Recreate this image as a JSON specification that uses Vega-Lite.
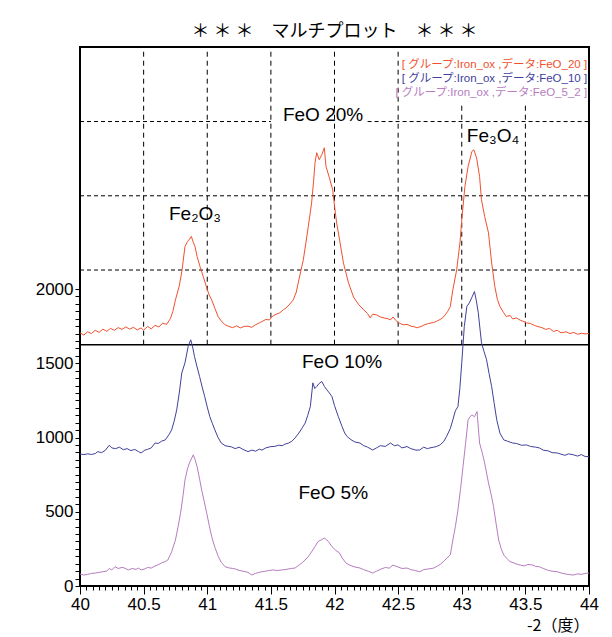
{
  "$schema": "https://vega.github.io/schema/vega-lite/v6.json",
  "width": 509,
  "height": 539,
  "autosize": "none",
  "padding": {"left": 80, "top": 47, "right": 23, "bottom": 51},
  "background": "white",
  "title": {"text": "＊ ＊ ＊　マルチプロット　＊ ＊ ＊", "font": "Noto Sans CJK JP", "fontSize": 18, "fontWeight": "normal", "color": "#000", "anchor": "middle", "offset": 6},
  "config": {"view": {"stroke": "#000", "strokeWidth": 2}, "font": "Liberation Sans"},
  "datasets": {
    "vgrid": [
      {"x": 40.5, "bottom": 1625, "top": 3630},
      {"x": 41.0, "bottom": 1625, "top": 3630},
      {"x": 41.5, "bottom": 1625, "top": 3630},
      {"x": 42.0, "bottom": 1625, "top": 3630},
      {"x": 42.5, "bottom": 1625, "top": 3630},
      {"x": 43.0, "bottom": 1625, "top": 3260},
      {"x": 43.5, "bottom": 1625, "top": 3260}
    ],
    "hgrid": [
      {"y": 2128, "x1": 40, "x2": 44},
      {"y": 2628, "x1": 40, "x2": 44},
      {"y": 3128, "x1": 40, "x2": 41.5},
      {"y": 3128, "x1": 42.26, "x2": 44}
    ],
    "sep": [{"y": 1625, "x1": 40, "x2": 44}],
    "labels": [
      {"label": "FeO 20%", "x": 41.91, "y": 3174},
      {"label": "Fe₂O₃", "x": 40.904, "y": 2507},
      {"label": "Fe₃O₄", "x": 43.246, "y": 3032},
      {"label": "FeO 10%", "x": 42.06, "y": 1509},
      {"label": "FeO 5%", "x": 41.99, "y": 627}
    ],
    "legend": [
      {"s": "FeO_20", "label": "[ グループ:Iron_ox ,データ:FeO_20  ]", "x": 43.985, "y": 3511},
      {"s": "FeO_10", "label": "[ グループ:Iron_ox ,データ:FeO_10  ]", "x": 43.985, "y": 3416},
      {"s": "FeO_5_2", "label": "[ グループ:Iron_ox ,データ:FeO_5_2 ]", "x": 43.985, "y": 3322}
    ],
    "series": [
      {"s":"FeO_20","x":40.00,"y":1705},{"s":"FeO_20","x":40.03,"y":1690},{"s":"FeO_20","x":40.06,"y":1712},{"s":"FeO_20","x":40.09,"y":1700},{"s":"FeO_20","x":40.12,"y":1722},{"s":"FeO_20","x":40.15,"y":1708},{"s":"FeO_20","x":40.18,"y":1730},{"s":"FeO_20","x":40.21,"y":1715},{"s":"FeO_20","x":40.24,"y":1735},{"s":"FeO_20","x":40.27,"y":1722},{"s":"FeO_20","x":40.30,"y":1740},{"s":"FeO_20","x":40.33,"y":1728},{"s":"FeO_20","x":40.36,"y":1745},{"s":"FeO_20","x":40.39,"y":1730},{"s":"FeO_20","x":40.42,"y":1742},{"s":"FeO_20","x":40.45,"y":1725},{"s":"FeO_20","x":40.48,"y":1738},{"s":"FeO_20","x":40.50,"y":1722},{"s":"FeO_20","x":40.53,"y":1748},{"s":"FeO_20","x":40.56,"y":1732},{"s":"FeO_20","x":40.59,"y":1755},{"s":"FeO_20","x":40.62,"y":1745},{"s":"FeO_20","x":40.65,"y":1770},{"s":"FeO_20","x":40.68,"y":1762},{"s":"FeO_20","x":40.71,"y":1800},{"s":"FeO_20","x":40.73,"y":1850},{"s":"FeO_20","x":40.75,"y":1927},{"s":"FeO_20","x":40.78,"y":2020},{"s":"FeO_20","x":40.80,"y":2116},{"s":"FeO_20","x":40.825,"y":2286},{"s":"FeO_20","x":40.845,"y":2320},{"s":"FeO_20","x":40.86,"y":2335},{"s":"FeO_20","x":40.875,"y":2354},{"s":"FeO_20","x":40.89,"y":2315},{"s":"FeO_20","x":40.904,"y":2286},{"s":"FeO_20","x":40.92,"y":2220},{"s":"FeO_20","x":40.943,"y":2152},{"s":"FeO_20","x":40.97,"y":2080},{"s":"FeO_20","x":40.996,"y":2008},{"s":"FeO_20","x":41.015,"y":1960},{"s":"FeO_20","x":41.035,"y":1927},{"s":"FeO_20","x":41.06,"y":1870},{"s":"FeO_20","x":41.085,"y":1815},{"s":"FeO_20","x":41.11,"y":1785},{"s":"FeO_20","x":41.14,"y":1759},{"s":"FeO_20","x":41.17,"y":1748},{"s":"FeO_20","x":41.20,"y":1740},{"s":"FeO_20","x":41.23,"y":1752},{"s":"FeO_20","x":41.26,"y":1738},{"s":"FeO_20","x":41.29,"y":1748},{"s":"FeO_20","x":41.32,"y":1750},{"s":"FeO_20","x":41.35,"y":1742},{"s":"FeO_20","x":41.38,"y":1760},{"s":"FeO_20","x":41.41,"y":1772},{"s":"FeO_20","x":41.43,"y":1781},{"s":"FeO_20","x":41.46,"y":1795},{"s":"FeO_20","x":41.49,"y":1792},{"s":"FeO_20","x":41.51,"y":1815},{"s":"FeO_20","x":41.54,"y":1830},{"s":"FeO_20","x":41.57,"y":1840},{"s":"FeO_20","x":41.60,"y":1862},{"s":"FeO_20","x":41.62,"y":1873},{"s":"FeO_20","x":41.65,"y":1900},{"s":"FeO_20","x":41.676,"y":1927},{"s":"FeO_20","x":41.70,"y":1980},{"s":"FeO_20","x":41.715,"y":2042},{"s":"FeO_20","x":41.735,"y":2120},{"s":"FeO_20","x":41.755,"y":2197},{"s":"FeO_20","x":41.775,"y":2310},{"s":"FeO_20","x":41.794,"y":2421},{"s":"FeO_20","x":41.82,"y":2579},{"s":"FeO_20","x":41.835,"y":2720},{"s":"FeO_20","x":41.847,"y":2850},{"s":"FeO_20","x":41.86,"y":2918},{"s":"FeO_20","x":41.88,"y":2871},{"s":"FeO_20","x":41.90,"y":2904},{"s":"FeO_20","x":41.92,"y":2951},{"s":"FeO_20","x":41.933,"y":2826},{"s":"FeO_20","x":41.96,"y":2749},{"s":"FeO_20","x":41.986,"y":2668},{"s":"FeO_20","x":42.00,"y":2560},{"s":"FeO_20","x":42.017,"y":2444},{"s":"FeO_20","x":42.04,"y":2331},{"s":"FeO_20","x":42.07,"y":2176},{"s":"FeO_20","x":42.11,"y":2042},{"s":"FeO_20","x":42.15,"y":1945},{"s":"FeO_20","x":42.19,"y":1895},{"s":"FeO_20","x":42.23,"y":1860},{"s":"FeO_20","x":42.26,"y":1835},{"s":"FeO_20","x":42.28,"y":1806},{"s":"FeO_20","x":42.30,"y":1830},{"s":"FeO_20","x":42.33,"y":1826},{"s":"FeO_20","x":42.36,"y":1812},{"s":"FeO_20","x":42.39,"y":1805},{"s":"FeO_20","x":42.42,"y":1800},{"s":"FeO_20","x":42.44,"y":1792},{"s":"FeO_20","x":42.46,"y":1812},{"s":"FeO_20","x":42.48,"y":1790},{"s":"FeO_20","x":42.51,"y":1770},{"s":"FeO_20","x":42.54,"y":1759},{"s":"FeO_20","x":42.57,"y":1762},{"s":"FeO_20","x":42.60,"y":1750},{"s":"FeO_20","x":42.63,"y":1745},{"s":"FeO_20","x":42.65,"y":1739},{"s":"FeO_20","x":42.68,"y":1748},{"s":"FeO_20","x":42.71,"y":1760},{"s":"FeO_20","x":42.74,"y":1768},{"s":"FeO_20","x":42.775,"y":1774},{"s":"FeO_20","x":42.80,"y":1782},{"s":"FeO_20","x":42.83,"y":1795},{"s":"FeO_20","x":42.85,"y":1806},{"s":"FeO_20","x":42.87,"y":1826},{"s":"FeO_20","x":42.89,"y":1850},{"s":"FeO_20","x":42.91,"y":1882},{"s":"FeO_20","x":42.93,"y":1995},{"s":"FeO_20","x":42.96,"y":2129},{"s":"FeO_20","x":42.986,"y":2311},{"s":"FeO_20","x":43.00,"y":2466},{"s":"FeO_20","x":43.025,"y":2691},{"s":"FeO_20","x":43.05,"y":2826},{"s":"FeO_20","x":43.08,"y":2927},{"s":"FeO_20","x":43.095,"y":2938},{"s":"FeO_20","x":43.117,"y":2882},{"s":"FeO_20","x":43.14,"y":2758},{"s":"FeO_20","x":43.155,"y":2601},{"s":"FeO_20","x":43.18,"y":2489},{"s":"FeO_20","x":43.21,"y":2379},{"s":"FeO_20","x":43.235,"y":2176},{"s":"FeO_20","x":43.26,"y":2017},{"s":"FeO_20","x":43.28,"y":1930},{"s":"FeO_20","x":43.30,"y":1882},{"s":"FeO_20","x":43.33,"y":1840},{"s":"FeO_20","x":43.35,"y":1815},{"s":"FeO_20","x":43.38,"y":1822},{"s":"FeO_20","x":43.40,"y":1799},{"s":"FeO_20","x":43.43,"y":1805},{"s":"FeO_20","x":43.46,"y":1790},{"s":"FeO_20","x":43.49,"y":1780},{"s":"FeO_20","x":43.51,"y":1772},{"s":"FeO_20","x":43.54,"y":1768},{"s":"FeO_20","x":43.57,"y":1755},{"s":"FeO_20","x":43.60,"y":1747},{"s":"FeO_20","x":43.63,"y":1740},{"s":"FeO_20","x":43.66,"y":1728},{"s":"FeO_20","x":43.69,"y":1735},{"s":"FeO_20","x":43.72,"y":1714},{"s":"FeO_20","x":43.75,"y":1722},{"s":"FeO_20","x":43.78,"y":1705},{"s":"FeO_20","x":43.82,"y":1712},{"s":"FeO_20","x":43.85,"y":1700},{"s":"FeO_20","x":43.88,"y":1708},{"s":"FeO_20","x":43.91,"y":1695},{"s":"FeO_20","x":43.94,"y":1702},{"s":"FeO_20","x":43.97,"y":1698},{"s":"FeO_20","x":44.00,"y":1700},
      {"s":"FeO_10","x":40.00,"y":889},{"s":"FeO_10","x":40.03,"y":885},{"s":"FeO_10","x":40.06,"y":890},{"s":"FeO_10","x":40.09,"y":886},{"s":"FeO_10","x":40.12,"y":892},{"s":"FeO_10","x":40.14,"y":905},{"s":"FeO_10","x":40.17,"y":898},{"s":"FeO_10","x":40.20,"y":915},{"s":"FeO_10","x":40.23,"y":948},{"s":"FeO_10","x":40.25,"y":930},{"s":"FeO_10","x":40.28,"y":925},{"s":"FeO_10","x":40.31,"y":935},{"s":"FeO_10","x":40.34,"y":918},{"s":"FeO_10","x":40.37,"y":925},{"s":"FeO_10","x":40.40,"y":912},{"s":"FeO_10","x":40.43,"y":920},{"s":"FeO_10","x":40.46,"y":905},{"s":"FeO_10","x":40.48,"y":896},{"s":"FeO_10","x":40.51,"y":915},{"s":"FeO_10","x":40.53,"y":920},{"s":"FeO_10","x":40.56,"y":930},{"s":"FeO_10","x":40.59,"y":963},{"s":"FeO_10","x":40.615,"y":960},{"s":"FeO_10","x":40.64,"y":975},{"s":"FeO_10","x":40.67,"y":984},{"s":"FeO_10","x":40.70,"y":1020},{"s":"FeO_10","x":40.72,"y":1051},{"s":"FeO_10","x":40.74,"y":1110},{"s":"FeO_10","x":40.76,"y":1186},{"s":"FeO_10","x":40.78,"y":1300},{"s":"FeO_10","x":40.80,"y":1435},{"s":"FeO_10","x":40.825,"y":1503},{"s":"FeO_10","x":40.85,"y":1613},{"s":"FeO_10","x":40.87,"y":1658},{"s":"FeO_10","x":40.885,"y":1610},{"s":"FeO_10","x":40.90,"y":1545},{"s":"FeO_10","x":40.92,"y":1475},{"s":"FeO_10","x":40.94,"y":1410},{"s":"FeO_10","x":40.96,"y":1340},{"s":"FeO_10","x":40.98,"y":1276},{"s":"FeO_10","x":41.00,"y":1205},{"s":"FeO_10","x":41.02,"y":1141},{"s":"FeO_10","x":41.04,"y":1095},{"s":"FeO_10","x":41.06,"y":1051},{"s":"FeO_10","x":41.085,"y":1000},{"s":"FeO_10","x":41.11,"y":963},{"s":"FeO_10","x":41.14,"y":945},{"s":"FeO_10","x":41.17,"y":940},{"s":"FeO_10","x":41.19,"y":937},{"s":"FeO_10","x":41.22,"y":925},{"s":"FeO_10","x":41.25,"y":935},{"s":"FeO_10","x":41.28,"y":920},{"s":"FeO_10","x":41.32,"y":905},{"s":"FeO_10","x":41.35,"y":915},{"s":"FeO_10","x":41.38,"y":908},{"s":"FeO_10","x":41.41,"y":922},{"s":"FeO_10","x":41.43,"y":915},{"s":"FeO_10","x":41.46,"y":930},{"s":"FeO_10","x":41.50,"y":939},{"s":"FeO_10","x":41.53,"y":940},{"s":"FeO_10","x":41.56,"y":948},{"s":"FeO_10","x":41.59,"y":945},{"s":"FeO_10","x":41.61,"y":955},{"s":"FeO_10","x":41.64,"y":963},{"s":"FeO_10","x":41.665,"y":975},{"s":"FeO_10","x":41.69,"y":997},{"s":"FeO_10","x":41.72,"y":1030},{"s":"FeO_10","x":41.75,"y":1070},{"s":"FeO_10","x":41.77,"y":1098},{"s":"FeO_10","x":41.79,"y":1150},{"s":"FeO_10","x":41.81,"y":1208},{"s":"FeO_10","x":41.83,"y":1368},{"s":"FeO_10","x":41.845,"y":1330},{"s":"FeO_10","x":41.86,"y":1343},{"s":"FeO_10","x":41.88,"y":1365},{"s":"FeO_10","x":41.90,"y":1377},{"s":"FeO_10","x":41.92,"y":1345},{"s":"FeO_10","x":41.94,"y":1321},{"s":"FeO_10","x":41.96,"y":1300},{"s":"FeO_10","x":41.98,"y":1276},{"s":"FeO_10","x":42.00,"y":1215},{"s":"FeO_10","x":42.03,"y":1141},{"s":"FeO_10","x":42.06,"y":1073},{"s":"FeO_10","x":42.08,"y":1030},{"s":"FeO_10","x":42.10,"y":1006},{"s":"FeO_10","x":42.13,"y":985},{"s":"FeO_10","x":42.16,"y":970},{"s":"FeO_10","x":42.20,"y":963},{"s":"FeO_10","x":42.23,"y":945},{"s":"FeO_10","x":42.26,"y":935},{"s":"FeO_10","x":42.30,"y":916},{"s":"FeO_10","x":42.33,"y":930},{"s":"FeO_10","x":42.36,"y":945},{"s":"FeO_10","x":42.40,"y":940},{"s":"FeO_10","x":42.44,"y":963},{"s":"FeO_10","x":42.47,"y":945},{"s":"FeO_10","x":42.50,"y":950},{"s":"FeO_10","x":42.53,"y":930},{"s":"FeO_10","x":42.57,"y":939},{"s":"FeO_10","x":42.60,"y":925},{"s":"FeO_10","x":42.64,"y":915},{"s":"FeO_10","x":42.67,"y":916},{"s":"FeO_10","x":42.70,"y":935},{"s":"FeO_10","x":42.73,"y":925},{"s":"FeO_10","x":42.75,"y":930},{"s":"FeO_10","x":42.78,"y":935},{"s":"FeO_10","x":42.80,"y":939},{"s":"FeO_10","x":42.83,"y":950},{"s":"FeO_10","x":42.86,"y":975},{"s":"FeO_10","x":42.88,"y":1006},{"s":"FeO_10","x":42.91,"y":1060},{"s":"FeO_10","x":42.93,"y":1119},{"s":"FeO_10","x":42.95,"y":1180},{"s":"FeO_10","x":42.97,"y":1208},{"s":"FeO_10","x":42.985,"y":1330},{"s":"FeO_10","x":43.00,"y":1503},{"s":"FeO_10","x":43.02,"y":1747},{"s":"FeO_10","x":43.04,"y":1882},{"s":"FeO_10","x":43.06,"y":1907},{"s":"FeO_10","x":43.08,"y":1945},{"s":"FeO_10","x":43.10,"y":1983},{"s":"FeO_10","x":43.115,"y":1920},{"s":"FeO_10","x":43.13,"y":1840},{"s":"FeO_10","x":43.155,"y":1638},{"s":"FeO_10","x":43.175,"y":1580},{"s":"FeO_10","x":43.195,"y":1523},{"s":"FeO_10","x":43.215,"y":1430},{"s":"FeO_10","x":43.235,"y":1343},{"s":"FeO_10","x":43.255,"y":1230},{"s":"FeO_10","x":43.275,"y":1119},{"s":"FeO_10","x":43.30,"y":1030},{"s":"FeO_10","x":43.33,"y":984},{"s":"FeO_10","x":43.36,"y":975},{"s":"FeO_10","x":43.40,"y":963},{"s":"FeO_10","x":43.43,"y":960},{"s":"FeO_10","x":43.47,"y":948},{"s":"FeO_10","x":43.51,"y":950},{"s":"FeO_10","x":43.54,"y":940},{"s":"FeO_10","x":43.58,"y":935},{"s":"FeO_10","x":43.61,"y":930},{"s":"FeO_10","x":43.64,"y":915},{"s":"FeO_10","x":43.68,"y":910},{"s":"FeO_10","x":43.71,"y":898},{"s":"FeO_10","x":43.75,"y":896},{"s":"FeO_10","x":43.78,"y":888},{"s":"FeO_10","x":43.81,"y":880},{"s":"FeO_10","x":43.84,"y":890},{"s":"FeO_10","x":43.88,"y":883},{"s":"FeO_10","x":43.91,"y":875},{"s":"FeO_10","x":43.94,"y":885},{"s":"FeO_10","x":43.97,"y":872},{"s":"FeO_10","x":44.00,"y":871},
      {"s":"FeO_5_2","x":40.00,"y":80},{"s":"FeO_5_2","x":40.03,"y":74},{"s":"FeO_5_2","x":40.06,"y":78},{"s":"FeO_5_2","x":40.09,"y":85},{"s":"FeO_5_2","x":40.12,"y":87},{"s":"FeO_5_2","x":40.15,"y":92},{"s":"FeO_5_2","x":40.18,"y":96},{"s":"FeO_5_2","x":40.21,"y":100},{"s":"FeO_5_2","x":40.23,"y":118},{"s":"FeO_5_2","x":40.25,"y":108},{"s":"FeO_5_2","x":40.275,"y":130},{"s":"FeO_5_2","x":40.30,"y":118},{"s":"FeO_5_2","x":40.33,"y":125},{"s":"FeO_5_2","x":40.35,"y":121},{"s":"FeO_5_2","x":40.38,"y":108},{"s":"FeO_5_2","x":40.41,"y":118},{"s":"FeO_5_2","x":40.44,"y":112},{"s":"FeO_5_2","x":40.46,"y":120},{"s":"FeO_5_2","x":40.48,"y":108},{"s":"FeO_5_2","x":40.51,"y":115},{"s":"FeO_5_2","x":40.53,"y":125},{"s":"FeO_5_2","x":40.56,"y":121},{"s":"FeO_5_2","x":40.59,"y":135},{"s":"FeO_5_2","x":40.62,"y":145},{"s":"FeO_5_2","x":40.64,"y":155},{"s":"FeO_5_2","x":40.67,"y":165},{"s":"FeO_5_2","x":40.69,"y":175},{"s":"FeO_5_2","x":40.72,"y":230},{"s":"FeO_5_2","x":40.75,"y":310},{"s":"FeO_5_2","x":40.77,"y":395},{"s":"FeO_5_2","x":40.79,"y":490},{"s":"FeO_5_2","x":40.81,"y":610},{"s":"FeO_5_2","x":40.825,"y":714},{"s":"FeO_5_2","x":40.845,"y":790},{"s":"FeO_5_2","x":40.86,"y":829},{"s":"FeO_5_2","x":40.89,"y":883},{"s":"FeO_5_2","x":40.905,"y":850},{"s":"FeO_5_2","x":40.92,"y":804},{"s":"FeO_5_2","x":40.94,"y":720},{"s":"FeO_5_2","x":40.956,"y":647},{"s":"FeO_5_2","x":40.976,"y":570},{"s":"FeO_5_2","x":40.996,"y":490},{"s":"FeO_5_2","x":41.015,"y":410},{"s":"FeO_5_2","x":41.035,"y":332},{"s":"FeO_5_2","x":41.06,"y":260},{"s":"FeO_5_2","x":41.087,"y":198},{"s":"FeO_5_2","x":41.11,"y":160},{"s":"FeO_5_2","x":41.14,"y":130},{"s":"FeO_5_2","x":41.17,"y":122},{"s":"FeO_5_2","x":41.20,"y":118},{"s":"FeO_5_2","x":41.22,"y":115},{"s":"FeO_5_2","x":41.25,"y":105},{"s":"FeO_5_2","x":41.28,"y":100},{"s":"FeO_5_2","x":41.32,"y":92},{"s":"FeO_5_2","x":41.35,"y":74},{"s":"FeO_5_2","x":41.38,"y":85},{"s":"FeO_5_2","x":41.41,"y":92},{"s":"FeO_5_2","x":41.43,"y":96},{"s":"FeO_5_2","x":41.46,"y":100},{"s":"FeO_5_2","x":41.49,"y":105},{"s":"FeO_5_2","x":41.52,"y":108},{"s":"FeO_5_2","x":41.55,"y":104},{"s":"FeO_5_2","x":41.585,"y":108},{"s":"FeO_5_2","x":41.62,"y":112},{"s":"FeO_5_2","x":41.66,"y":118},{"s":"FeO_5_2","x":41.69,"y":121},{"s":"FeO_5_2","x":41.72,"y":140},{"s":"FeO_5_2","x":41.75,"y":160},{"s":"FeO_5_2","x":41.77,"y":175},{"s":"FeO_5_2","x":41.80,"y":205},{"s":"FeO_5_2","x":41.83,"y":243},{"s":"FeO_5_2","x":41.85,"y":270},{"s":"FeO_5_2","x":41.87,"y":299},{"s":"FeO_5_2","x":41.895,"y":310},{"s":"FeO_5_2","x":41.92,"y":323},{"s":"FeO_5_2","x":41.94,"y":310},{"s":"FeO_5_2","x":41.96,"y":290},{"s":"FeO_5_2","x":41.98,"y":265},{"s":"FeO_5_2","x":42.01,"y":240},{"s":"FeO_5_2","x":42.04,"y":222},{"s":"FeO_5_2","x":42.06,"y":189},{"s":"FeO_5_2","x":42.09,"y":155},{"s":"FeO_5_2","x":42.12,"y":140},{"s":"FeO_5_2","x":42.16,"y":128},{"s":"FeO_5_2","x":42.20,"y":121},{"s":"FeO_5_2","x":42.23,"y":110},{"s":"FeO_5_2","x":42.27,"y":98},{"s":"FeO_5_2","x":42.30,"y":87},{"s":"FeO_5_2","x":42.33,"y":100},{"s":"FeO_5_2","x":42.36,"y":112},{"s":"FeO_5_2","x":42.40,"y":125},{"s":"FeO_5_2","x":42.43,"y":120},{"s":"FeO_5_2","x":42.46,"y":141},{"s":"FeO_5_2","x":42.50,"y":128},{"s":"FeO_5_2","x":42.53,"y":118},{"s":"FeO_5_2","x":42.57,"y":121},{"s":"FeO_5_2","x":42.60,"y":110},{"s":"FeO_5_2","x":42.63,"y":105},{"s":"FeO_5_2","x":42.67,"y":96},{"s":"FeO_5_2","x":42.70,"y":110},{"s":"FeO_5_2","x":42.74,"y":115},{"s":"FeO_5_2","x":42.78,"y":121},{"s":"FeO_5_2","x":42.81,"y":135},{"s":"FeO_5_2","x":42.83,"y":145},{"s":"FeO_5_2","x":42.855,"y":164},{"s":"FeO_5_2","x":42.88,"y":185},{"s":"FeO_5_2","x":42.91,"y":209},{"s":"FeO_5_2","x":42.93,"y":310},{"s":"FeO_5_2","x":42.95,"y":400},{"s":"FeO_5_2","x":42.97,"y":512},{"s":"FeO_5_2","x":42.99,"y":650},{"s":"FeO_5_2","x":43.01,"y":804},{"s":"FeO_5_2","x":43.03,"y":960},{"s":"FeO_5_2","x":43.05,"y":1119},{"s":"FeO_5_2","x":43.065,"y":1140},{"s":"FeO_5_2","x":43.08,"y":1152},{"s":"FeO_5_2","x":43.10,"y":1140},{"s":"FeO_5_2","x":43.12,"y":1175},{"s":"FeO_5_2","x":43.14,"y":963},{"s":"FeO_5_2","x":43.16,"y":900},{"s":"FeO_5_2","x":43.18,"y":829},{"s":"FeO_5_2","x":43.21,"y":694},{"s":"FeO_5_2","x":43.23,"y":620},{"s":"FeO_5_2","x":43.25,"y":534},{"s":"FeO_5_2","x":43.27,"y":420},{"s":"FeO_5_2","x":43.29,"y":310},{"s":"FeO_5_2","x":43.31,"y":250},{"s":"FeO_5_2","x":43.33,"y":209},{"s":"FeO_5_2","x":43.36,"y":180},{"s":"FeO_5_2","x":43.38,"y":164},{"s":"FeO_5_2","x":43.41,"y":155},{"s":"FeO_5_2","x":43.44,"y":145},{"s":"FeO_5_2","x":43.46,"y":141},{"s":"FeO_5_2","x":43.49,"y":135},{"s":"FeO_5_2","x":43.52,"y":145},{"s":"FeO_5_2","x":43.56,"y":141},{"s":"FeO_5_2","x":43.58,"y":132},{"s":"FeO_5_2","x":43.61,"y":130},{"s":"FeO_5_2","x":43.64,"y":118},{"s":"FeO_5_2","x":43.68,"y":105},{"s":"FeO_5_2","x":43.71,"y":100},{"s":"FeO_5_2","x":43.75,"y":96},{"s":"FeO_5_2","x":43.78,"y":88},{"s":"FeO_5_2","x":43.82,"y":80},{"s":"FeO_5_2","x":43.85,"y":76},{"s":"FeO_5_2","x":43.88,"y":74},{"s":"FeO_5_2","x":43.91,"y":82},{"s":"FeO_5_2","x":43.94,"y":78},{"s":"FeO_5_2","x":43.97,"y":85},{"s":"FeO_5_2","x":44.00,"y":87}
    ]
  },
  "layer": [
    {
      "data": {"name": "vgrid"},
      "mark": {"type": "rule", "color": "#000", "strokeWidth": 1, "strokeDash": [5, 4]},
      "encoding": {
        "x": {"field": "x", "type": "quantitative", "scale": {"domain": [40, 44], "nice": false, "zero": false}, "axis": null},
        "y": {"field": "bottom", "type": "quantitative", "scale": {"domain": [0, 3630], "nice": false, "zero": false}, "axis": null},
        "y2": {"field": "top"}
      }
    },
    {
      "data": {"name": "hgrid"},
      "mark": {"type": "rule", "color": "#000", "strokeWidth": 1, "strokeDash": [4, 3]},
      "encoding": {
        "y": {"field": "y", "type": "quantitative", "axis": null},
        "x": {"field": "x1", "type": "quantitative", "axis": null},
        "x2": {"field": "x2"}
      }
    },
    {
      "data": {"name": "sep"},
      "mark": {"type": "rule", "color": "#000", "strokeWidth": 1.5},
      "encoding": {
        "y": {"field": "y", "type": "quantitative", "axis": null},
        "x": {"field": "x1", "type": "quantitative", "axis": null},
        "x2": {"field": "x2"}
      }
    },
    {
      "data": {"name": "series"},
      "mark": {"type": "line", "strokeWidth": 1},
      "encoding": {
        "x": {"field": "x", "type": "quantitative",
              "axis": {"orient": "bottom", "tickCount": 80, "format": "~g",
                       "labelExpr": "abs(datum.value * 2 - round(datum.value * 2)) < 0.001 ? datum.label : ''",
                       "labelFlush": false,
                       "tickSize": 8,
                       "tickDash": {"condition": {"test": "abs(datum.value * 2 - round(datum.value * 2)) < 0.001", "value": [10, 0]}, "value": [4, 10]},
                       "tickColor": "#000", "tickWidth": 1, "domain": false, "grid": false, "labelFont": "Liberation Sans", "labelFontSize": 17, "labelColor": "#000", "labelPadding": 2,
                       "title": "-2（度）", "titleFont": "Noto Sans CJK JP", "titleFontSize": 16, "titleFontWeight": "normal", "titleColor": "#000", "titleAnchor": "end", "titleAlign": "right", "titlePadding": 5}},
        "y": {"field": "y", "type": "quantitative",
              "axis": {"orient": "left", "values": [0,50,100,150,200,250,300,350,400,450,500,550,600,650,700,750,800,850,900,950,1000,1050,1100,1150,1200,1250,1300,1350,1400,1450,1500,1550,1600,1650,1700,1750,1800,1850,1900,1950,2000],
                       "format": "d", "labelExpr": "datum.value % 500 === 0 ? datum.label : ''",
                       "tickSize": 5,
                       "tickColor": "#000", "tickWidth": 1, "domain": false, "grid": false, "labelFont": "Liberation Sans", "labelFontSize": 17, "labelColor": "#000", "labelPadding": 2, "title": null}},
        "color": {"field": "s", "type": "nominal", "legend": null,
                  "scale": {"domain": ["FeO_20", "FeO_10", "FeO_5_2"], "range": ["#f0502e", "#40409c", "#b67cbf"]}},
        "order": {"field": "x", "type": "quantitative"}
      }
    },
    {
      "data": {"name": "labels"},
      "mark": {"type": "text", "font": "Liberation Sans", "fontSize": 19, "color": "#000", "align": "center", "baseline": "middle"},
      "encoding": {
        "x": {"field": "x", "type": "quantitative", "axis": null},
        "y": {"field": "y", "type": "quantitative", "axis": null},
        "text": {"field": "label"}
      }
    },
    {
      "data": {"name": "legend"},
      "mark": {"type": "text", "font": "Liberation Sans, Noto Sans CJK JP", "fontSize": 11.5, "align": "right", "baseline": "middle"},
      "encoding": {
        "x": {"field": "x", "type": "quantitative", "axis": null},
        "y": {"field": "y", "type": "quantitative", "axis": null},
        "text": {"field": "label"},
        "color": {"field": "s", "type": "nominal", "legend": null}
      }
    }
  ],
  "resolve": {"axis": {"x": "independent", "y": "independent"}}
}
